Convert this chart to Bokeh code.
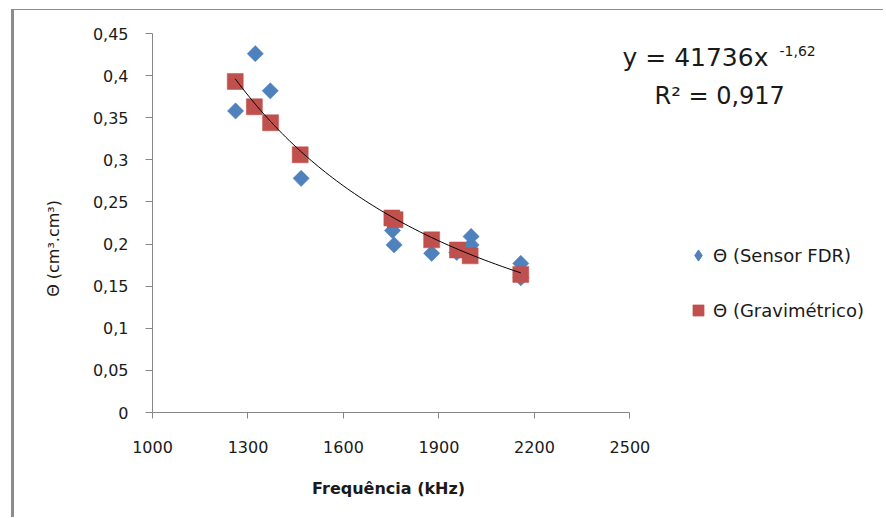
import numpy as np
from bokeh.plotting import figure
from bokeh.models import FixedTicker, Legend, LegendItem, Label
from bokeh.embed import file_html
from bokeh.resources import INLINE

# ---- data ----
sensor_freq = [1261, 1323, 1370, 1467, 1754, 1759, 1877, 1956, 2001, 2001, 2157, 2157]
sensor_theta = [0.358, 0.426, 0.382, 0.278, 0.216, 0.199, 0.189, 0.190, 0.209, 0.199, 0.177, 0.160]
grav_freq = [1260, 1320, 1371, 1464, 1752, 1762, 1877, 1958, 1998, 2157]
grav_theta = [0.393, 0.363, 0.344, 0.306, 0.231, 0.229, 0.205, 0.193, 0.186, 0.164]

# power trendline printed on the chart: y = 41736 x^-1.62
TREND_A = 41736
TREND_B = -1.62

x_ticks = [1000, 1300, 1600, 1900, 2200, 2500]
y_ticks = [0, 0.05, 0.1, 0.15, 0.2, 0.25, 0.3, 0.35, 0.4, 0.45]
y_tick_labels = ["0", "0,05", "0,1", "0,15", "0,2", "0,25", "0,3", "0,35", "0,4", "0,45"]
series_names = ["\u0398 (Sensor FDR)", "\u0398 (Gravim\u00e9trico)"]
x_title = "Frequ\u00eancia (kHz)"
y_title = "\u0398 (cm\u00b3.cm\u00b3)"
eq_main = "y = 41736x"
eq_exp = "-1,62"
r2_text = "R\u00b2 = 0,917"

X_AXIS_RANGE = (1000, 2500)
Y_AXIS_RANGE = (0, 0.45)
X_VIEW_END = 3306  # frame extends to the right edge so the legend/equation are not clipped

BLUE = "#4F81BD"
RED = "#C0504D"
AXIS = "#868686"
TXT = "#1a1a1a"
FONT = "DejaVu Sans"
NBSP = "\u00a0"

p = figure(width=872, height=508, x_range=(X_AXIS_RANGE[0], X_VIEW_END), y_range=Y_AXIS_RANGE,
           output_backend="svg", toolbar_location=None,
           min_border_left=138, min_border_right=0, min_border_top=23, min_border_bottom=106)
p.styles = {"margin-left": "11px", "margin-top": "9px",
            "border-left": "3px solid #8c8c8c", "border-top": "1px solid #8c8c8c"}
p.grid.visible = False
p.outline_line_color = None
p.background_fill_color = "white"
p.border_fill_color = "white"

for ax in (p.xaxis[0], p.yaxis[0]):
    ax.axis_line_color = AXIS
    ax.major_tick_line_color = AXIS
    ax.minor_tick_line_color = None
    ax.major_tick_in = 0
    ax.major_label_text_font = FONT
    ax.major_label_text_font_size = "16px"
    ax.major_label_text_color = TXT
    ax.axis_label_text_font = FONT
    ax.axis_label_text_color = TXT
    ax.axis_label_text_font_style = "normal"

p.xaxis.bounds = X_AXIS_RANGE
p.xaxis.ticker = FixedTicker(ticks=x_ticks)
p.xaxis.major_label_overrides = {t: str(t) for t in x_ticks}
p.xaxis.major_tick_out = 6
p.xaxis.major_label_standoff = 22
# trailing non-breaking spaces move the title's visible part under the plotted axis span
p.xaxis.axis_label = x_title + NBSP * 47
p.xaxis.axis_label_text_font_size = "16px"
p.xaxis.axis_label_text_font_style = "bold"
p.xaxis.axis_label_standoff = 23

p.yaxis.ticker = FixedTicker(ticks=y_ticks)
p.yaxis.major_label_overrides = dict(zip(y_ticks, y_tick_labels))
p.yaxis.major_tick_out = 7
p.yaxis.major_label_standoff = 17
p.yaxis.axis_label = y_title + NBSP * 10
p.yaxis.axis_label_text_font_size = "16px"
p.yaxis.axis_label_standoff = 27

# data marks
blue = p.scatter(sensor_freq, sensor_theta, marker="square", angle=np.pi / 4, size=11.5,
                 fill_color=BLUE, line_color=BLUE, line_width=0.5)
red = p.scatter(grav_freq, grav_theta, marker="square", size=16,
                fill_color=RED, line_color=RED, line_width=0.5)

# power trendline over the measured frequency span
tx = np.linspace(min(grav_freq), max(grav_freq), 80)
p.line(tx, TREND_A * tx ** TREND_B, line_color="black", line_width=1)

# legend (hidden twin of the sensor series so the legend shows a diamond)
leg_blue = p.scatter(sensor_freq, sensor_theta, marker="diamond", fill_color=BLUE, line_color=BLUE,
                     visible=False)
legend = Legend(items=[LegendItem(label=series_names[0], renderers=[leg_blue]),
                       LegendItem(label=series_names[1], renderers=[red])],
                location=(532, 88), orientation="vertical", spacing=27,
                glyph_width=28, glyph_height=28, label_standoff=1,
                label_text_font=FONT, label_text_font_size="18px", label_text_color=TXT,
                border_line_alpha=0, background_fill_alpha=0, padding=0, margin=0)
p.add_layout(legend)

# equation
for txt, x, y, size in [(eq_main, 470, 355, "25px"), (eq_exp, 627, 362, "14px"), (r2_text, 502, 317, "24px")]:
    p.add_layout(Label(x=x, y=y, x_units="screen", y_units="screen", text=txt,
                       text_font=FONT, text_font_size=size, text_color=TXT,
                       text_baseline="alphabetic", text_align="left"))

open("out.html", "w").write(file_html(p, INLINE))
